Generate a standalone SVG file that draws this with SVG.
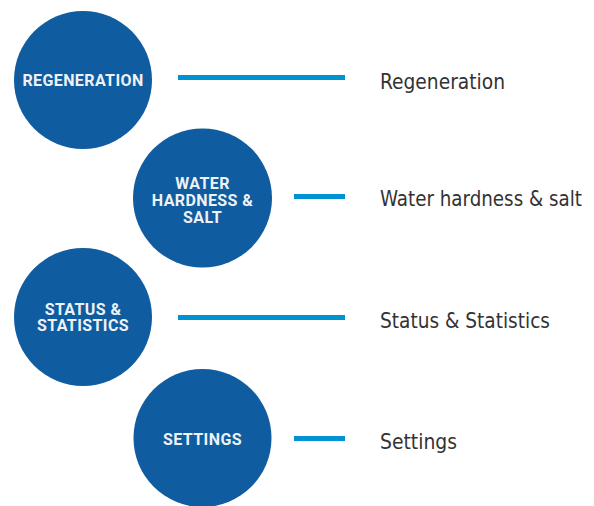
<svg xmlns="http://www.w3.org/2000/svg" width="594" height="506" viewBox="0 0 594 506">
<style>
.c{fill:#0f5ca0}
.t{fill:#eef2f6;font-family:Roboto,"Liberation Sans",sans-serif;font-weight:bold;font-size:16px;letter-spacing:0.4px;text-anchor:middle}
.l{stroke:#0093d2;stroke-width:5}
.lb{fill:#333;font-family:"DejaVu Sans Condensed","Liberation Sans",sans-serif;font-stretch:condensed;font-size:22px}
</style>
<rect width="594" height="506" fill="#fff"/>
<g id="connectors">
<line class="l" x1="178" y1="77.5" x2="345" y2="77.5"/>
<line class="l" x1="294" y1="196.5" x2="345" y2="196.5"/>
<line class="l" x1="178" y1="317.5" x2="345" y2="317.5"/>
<line class="l" x1="294" y1="438.5" x2="345" y2="438.5"/>
</g>
<g id="n1"><circle class="c" cx="83" cy="80" r="69"/><text class="t" x="83" y="86">REGENERATION</text></g>
<g id="n2"><circle class="c" cx="202.5" cy="198" r="69.5"/><text class="t"><tspan x="202.5" y="189">WATER</tspan><tspan x="202.5" y="206">HARDNESS &amp;</tspan><tspan x="202.5" y="223">SALT</tspan></text></g>
<g id="n3"><circle class="c" cx="83" cy="317" r="69"/><text class="t"><tspan x="83" y="314.5">STATUS &amp;</tspan><tspan x="83" y="331">STATISTICS</tspan></text></g>
<g id="n4"><circle class="c" cx="202.5" cy="438" r="69"/><text class="t" x="202.5" y="445">SETTINGS</text></g>
<g id="labels">
<text class="lb" x="380" y="89" textLength="125" lengthAdjust="spacingAndGlyphs">Regeneration</text>
<text class="lb" x="380" y="206" textLength="202" lengthAdjust="spacingAndGlyphs">Water hardness &amp; salt</text>
<text class="lb" x="380" y="328" textLength="170" lengthAdjust="spacingAndGlyphs">Status &amp; Statistics</text>
<text class="lb" x="380" y="449" textLength="77" lengthAdjust="spacingAndGlyphs">Settings</text>
</g>
</svg>
